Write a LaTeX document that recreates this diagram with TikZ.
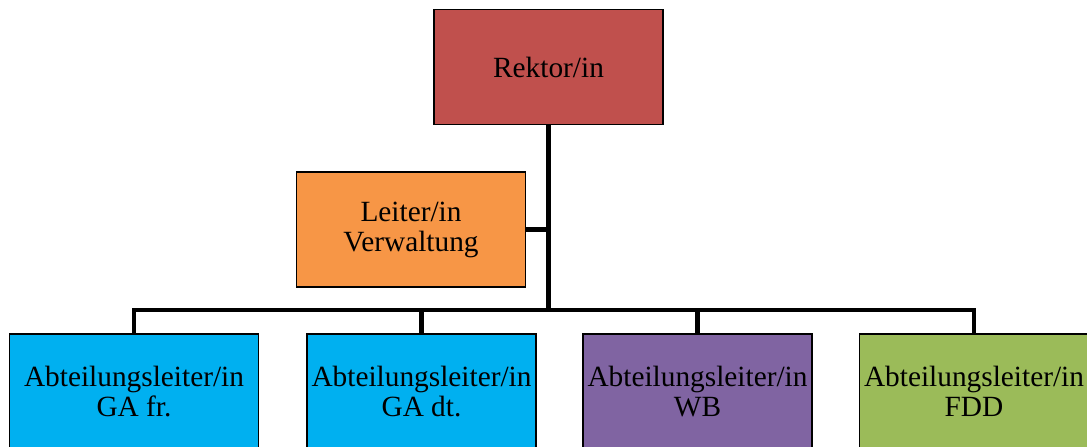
\documentclass[tikz,border=0pt]{standalone}
\usepackage{fontspec}
\setmainfont{Liberation Serif}
\definecolor{rektorred}{HTML}{C0504D}
\definecolor{verworange}{HTML}{F79646}
\definecolor{gablue}{HTML}{00B0F0}
\definecolor{wbviolet}{HTML}{8064A2}
\definecolor{fddgreen}{HTML}{9BBB59}
\begin{document}
\begin{tikzpicture}[x=0.75pt,y=-0.75pt,
    box/.style={draw=black,line width=1.1pt,inner sep=0pt,align=center,
      minimum height=86pt,font=\fontsize{22}{22.5}\selectfont},
    link/.style={line width=3.6pt}]
  \clip (0,0) rectangle (1087,446);
  \useasboundingbox (0,0) rectangle (1087,446);

  \node[box,fill=rektorred,minimum width=172pt] (rektor) at (548.5,67) {Rektor/in};
  \node[box,fill=verworange,minimum width=172pt] (verw) at (411,229.5) {Leiter/in\\Verwaltung};

  \node[box,fill=gablue,minimum width=187pt] (gafr) at (134,391.5) {Abteilungsleiter/in\\GA fr.};
  \node[box,fill=gablue,minimum width=172pt] (gadt) at (421.5,391.5) {Abteilungsleiter/in\\GA dt.};
  \node[box,fill=wbviolet,minimum width=172pt] (wb) at (697.5,391.5) {Abteilungsleiter/in\\WB};
  \node[box,fill=fddgreen,minimum width=172pt] (fdd) at (974,391.5) {Abteilungsleiter/in\\FDD};

  \coordinate (bus) at (548.5,310);
  \draw[link] (rektor.south) -- (bus);
  \draw[link] (verw.east) -- (verw.east -| bus);
  \draw[link] (gafr.north) -- (gafr.north |- bus) -- (fdd.north |- bus) -- (fdd.north);
  \foreach \n in {gadt,wb}
    \draw[link] (\n.north) -- (\n.north |- bus);
\end{tikzpicture}
\end{document}
